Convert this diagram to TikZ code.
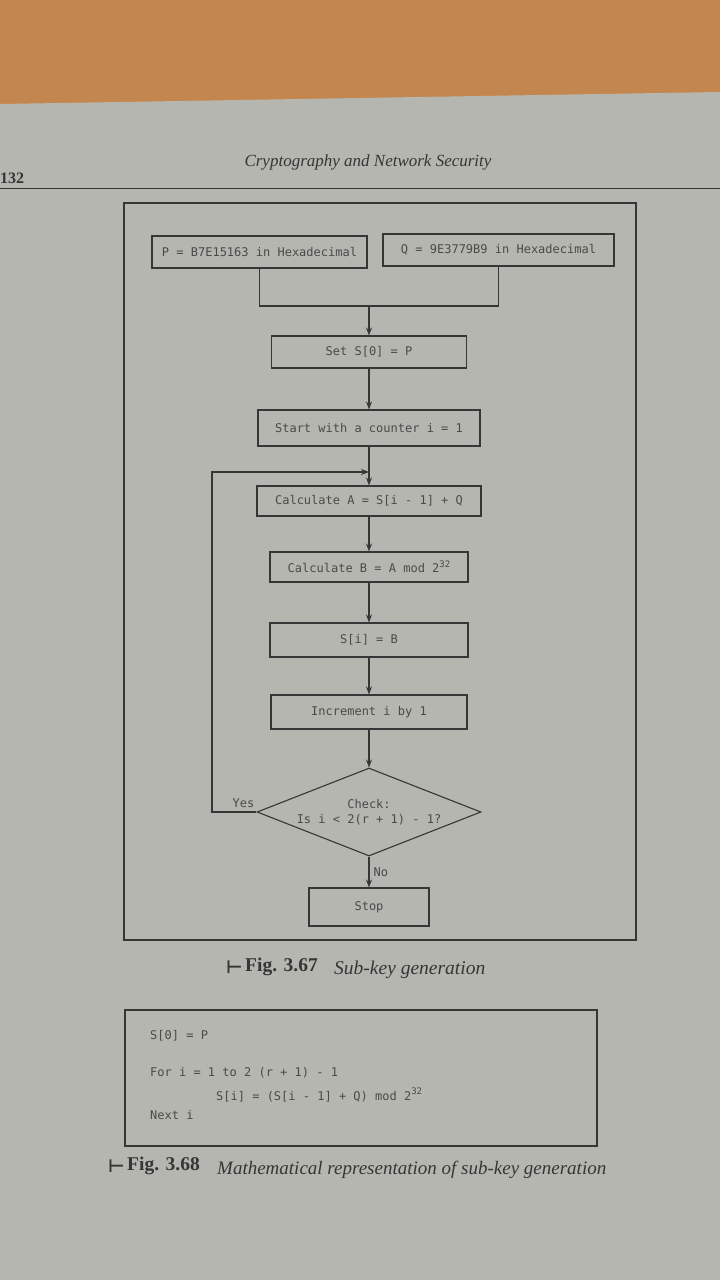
\documentclass[tikz,border=0pt]{standalone}
\usepackage{fontspec}
\setmainfont{Liberation Serif}
\newfontfamily\boxfont{DejaVu Sans Mono}
\newfontfamily\symfont{DejaVu Sans}
\usetikzlibrary{arrows.meta,shapes.geometric}
\definecolor{page}{HTML}{B5B6AF}
\definecolor{wood}{HTML}{C4864F}
\definecolor{ink}{HTML}{363636}
\definecolor{boxink}{HTML}{4A4A4A}
\newcommand{\supnum}[1]{\raisebox{0.45em}{\fontsize{9}{9}\selectfont #1}}
\begin{document}
\begin{tikzpicture}[x=1pt,y=-1pt,
  proc/.style={draw=ink, line width=1.1pt, inner sep=0pt, text=boxink,
    font=\boxfont\fontsize{12}{14}\selectfont},
  dec/.style={draw=ink, line width=1.1pt, diamond, shape aspect=2.55, inner sep=0pt,
    minimum width=224pt, minimum height=88pt, align=center, text=boxink,
    font=\boxfont\fontsize{12}{15}\selectfont},
  flow/.style={draw=ink, line width=1.1pt, -{Stealth[length=8pt,width=6pt]}},
  plain/.style={draw=ink, line width=1.1pt},
  frame/.style={draw=ink, line width=1.5pt},
  lbl/.style={text=boxink, font=\boxfont\fontsize{12}{14}\selectfont, inner sep=1pt},
  code/.style={text=boxink, font=\boxfont\fontsize{12}{14}\selectfont, anchor=west, inner sep=0pt},
  captxt/.style={text=ink, anchor=west, inner sep=0pt}
]
\useasboundingbox (0,0) rectangle (720,1280);
\fill[wood] (0,0) rectangle (720,1280);
\fill[page] (0,104) -- (720,92) -- (720,1280) -- (0,1280) -- cycle;

% page header
\node[text=ink, font=\bfseries\fontsize{16}{18}\selectfont, anchor=west, inner sep=0pt] (pgno) at (0,178) {132};
\node[text=ink, font=\itshape\fontsize{17}{19}\selectfont, inner sep=0pt] (runhead) at (368,162) {Cryptography and Network Security};
\draw[ink, line width=0.9pt] (0,188) -- (720,188);

% Fig 3.67 frame
\draw[frame] (124,203) rectangle (636,940);

% nodes
\node[proc, minimum width=215pt, minimum height=32pt] (P) at (259.5,252) {P = B7E15163 in Hexadecimal};
\node[proc, minimum width=231pt, minimum height=32pt] (Q) at (498.5,250) {Q = 9E3779B9 in Hexadecimal};
\coordinate (join) at (369,306);
\node[proc, minimum width=195pt, minimum height=32pt] (set) at (369,352) {Set S[0] = P};
\node[proc, minimum width=222pt, minimum height=36pt] (start) at (369,428) {Start with a counter i = 1};
\coordinate (loop) at (369,472);
\node[proc, minimum width=224pt, minimum height=30pt] (calcA) at (369,501) {Calculate A = S[i - 1] + Q};
\node[proc, minimum width=198pt, minimum height=30pt] (calcB) at (369,567) {Calculate B = A mod 2\supnum{32}};
\node[proc, minimum width=198pt, minimum height=34pt] (si) at (369,640) {S[i] = B};
\node[proc, minimum width=196pt, minimum height=34pt] (inc) at (369,712) {Increment i by 1};
\node[dec] (check) at (369,812) {Check:\\Is i < 2(r + 1) - 1?};
\node[proc, minimum width=120pt, minimum height=38pt] (stop) at (369,907) {Stop};
\coordinate (back) at (212,812);
\node[lbl, anchor=south east] (yes) at ([xshift=-1pt,yshift=3pt]check.west) {Yes};

% connectors
\draw[plain] (P.south) |- (join) -| (Q.south);
\draw[flow] (join) -- (set.north);
\draw[flow] (set.south) -- (start.north);
\draw[plain] (start.south) -- (loop);
\draw[flow] (loop) -- (calcA.north);
\draw[flow] (calcA.south) -- (calcB.north);
\draw[flow] (calcB.south) -- (si.north);
\draw[flow] (si.south) -- (inc.north);
\draw[flow] (inc.south) -- (check.north);
\draw[flow] (check.south) -- node[lbl, right=3pt] (no) {No} (stop.north);
\draw[flow] (check.west) -- (back) |- (loop);

% caption 3.67
\node[captxt, font=\symfont\bfseries\fontsize{18}{20}\selectfont] (tack1) at (226,967) {⊢};
\node[captxt, font=\bfseries\fontsize{19.5}{22}\selectfont] (fig67) at (245,967) {Fig. 3.67};
\node[captxt, font=\itshape\fontsize{19.5}{22}\selectfont] (cap67) at (334,970) {Sub-key generation};

% Fig 3.68
\draw[frame] (125,1010) rectangle (597,1146);
\node[code] (l1) at (150,1036) {S[0] = P};
\node[code] (l2) at (150,1073) {For i = 1 to 2 (r + 1) - 1};
\node[code] (l3) at (216,1095) {S[i] = (S[i - 1] + Q) mod 2\supnum{32}};
\node[code] (l4) at (150,1115) {Next i};

\node[captxt, font=\symfont\bfseries\fontsize{18}{20}\selectfont] (tack2) at (108,1166) {⊢};
\node[captxt, font=\bfseries\fontsize{19.5}{22}\selectfont] (fig68) at (127,1166) {Fig. 3.68};
\node[captxt, font=\itshape\fontsize{19}{22}\selectfont] (cap68) at (217,1170) {Mathematical representation of sub-key generation};
\end{tikzpicture}
\end{document}
